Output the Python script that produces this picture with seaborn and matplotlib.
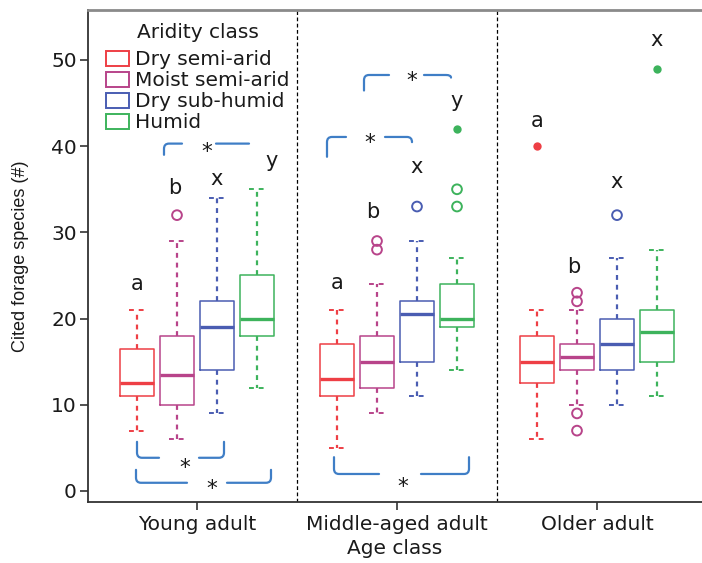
import itertools

import numpy as np
import pandas as pd
import matplotlib
matplotlib.use("Agg")
import matplotlib.pyplot as plt
from matplotlib.path import Path
from matplotlib.patches import PathPatch, Patch
import seaborn as sns

# ---------------------------------------------------------------- data
age_classes = ["Young adult", "Middle-aged adult", "Older adult"]
aridity_classes = ["Dry semi-arid", "Moist semi-arid", "Dry sub-humid", "Humid"]

# five-number summaries, one entry per (age class, aridity class) pair,
# aridity class varying fastest
whisker_low = [7, 6, 9, 12, 5, 9, 11, 14, 6, 10, 10, 11]
q1 = [11, 10, 14, 18, 11, 12, 15, 19, 12.5, 14, 14, 15]
median = [12.5, 13.5, 19, 20, 13, 15, 20.5, 20, 15, 15.5, 17, 18.5]
q3 = [16.5, 18, 22, 25, 17, 18, 22, 24, 18, 17, 20, 21]
whisker_high = [21, 29, 34, 35, 21, 24, 29, 27, 21, 21, 27, 28]

# outliers (open circles)
outlier_age = ["Young adult", "Middle-aged adult", "Middle-aged adult",
               "Middle-aged adult", "Middle-aged adult", "Middle-aged adult",
               "Older adult", "Older adult", "Older adult", "Older adult",
               "Older adult"]
outlier_aridity = ["Moist semi-arid", "Moist semi-arid", "Moist semi-arid",
                   "Dry sub-humid", "Humid", "Humid",
                   "Moist semi-arid", "Moist semi-arid", "Moist semi-arid",
                   "Moist semi-arid", "Dry sub-humid"]
outlier_value = [32, 28, 29, 33, 33, 35, 22, 23, 9, 7, 32]

# extreme values (filled markers)
extreme_age = ["Middle-aged adult", "Older adult", "Older adult"]
extreme_aridity = ["Humid", "Dry semi-arid", "Humid"]
extreme_value = [42, 40, 49]

# post-hoc group letters per box
letters = ["a", "b", "x", "y", "a", "b", "x", "y", "a", "b", "x", "x"]
letter_base = [23.3, 34.5, 35.5, 37.6, 23.4, 31.7, 36.9, 44.5,
               42.2, 25.3, 35.2, 51.6]
letter_nudge = [0, -0.01, 0, 0.075, 0, -0.02, 0, 0.0, 0, -0.015, 0, 0]

palette = dict(zip(aridity_classes,
                   ["#EE3F45", "#B8448A", "#4A5DB2", "#3DB35C"]))
bracket_color = "#3F7EC6"

# ---------------------------------------------------------------- tables
rows = []
for i, (age, arid) in enumerate(itertools.product(age_classes, aridity_classes)):
    for v in (whisker_low[i], q1[i], median[i], q3[i], whisker_high[i]):
        rows.append({"age": age, "aridity": arid, "species": v})
summary = pd.DataFrame(rows)
outliers = pd.DataFrame({"age": outlier_age, "aridity": outlier_aridity,
                         "species": outlier_value})
extremes = pd.DataFrame({"age": extreme_age, "aridity": extreme_aridity,
                         "species": extreme_value})

# ---------------------------------------------------------------- style
sns.set_style("ticks")
plt.rcParams["font.family"] = ["DejaVu Sans"]
text_color = "#1a1a1a"
fs = 14.5

fig = plt.figure(figsize=(7.02, 5.63), dpi=100)
ax = fig.add_axes([88 / 702, 61 / 563, 614 / 702, 492 / 563])

sns.boxplot(data=summary, x="age", y="species", hue="aridity",
            order=age_classes, hue_order=aridity_classes, palette=palette,
            fill=False, width=0.8, gap=0.15, whis=np.inf, showfliers=False,
            linewidth=1.1,
            medianprops=dict(linewidth=2.4),
            whiskerprops=dict(linestyle=(0, (2.2, 2.2)), linewidth=1.6),
            capprops=dict(linestyle=(0, (2.5, 2.5)), linewidth=1.4),
            legend=False, ax=ax)

n_before = len(ax.collections)
sns.stripplot(data=outliers, x="age", y="species", hue="aridity",
              order=age_classes, hue_order=aridity_classes, palette=palette,
              dodge=True, jitter=False, size=7, legend=False, ax=ax)
for coll in ax.collections[n_before:]:
    fc = coll.get_facecolors()
    coll.set_edgecolors(fc)
    coll.set_facecolors("none")
    coll.set_linewidth(1.4)

sns.stripplot(data=extremes, x="age", y="species", hue="aridity",
              order=age_classes, hue_order=aridity_classes, palette=palette,
              dodge=True, jitter=False, size=6, marker="o",
              linewidth=0, legend=False, ax=ax)

# ---------------------------------------------------------------- letters
hue_offsets = [-0.3, -0.1, 0.1, 0.3]
for i, (g, h) in enumerate(itertools.product(range(3), range(4))):
    ax.text(g + hue_offsets[h] + letter_nudge[i], letter_base[i], letters[i],
            ha="center", va="baseline", fontsize=15, color=text_color)

# ---------------------------------------------------------------- brackets
def bracket(x0, x1, y, hook_l, hook_r, gap0, gap1, star_x, star_y):
    rx, ry = 0.025, 0.6
    verts, codes = [], []

    def corner(xe, hook, side):
        sgn = np.sign(hook) if hook != 0 else 1
        r = min(ry, abs(hook))
        return [(xe, y + hook), (xe, y + sgn * r), (xe, y),
                (xe + side * rx, y)]

    left = corner(x0, hook_l, 1)
    verts += left + [(gap0, y)]
    codes += [Path.MOVETO, Path.LINETO, Path.CURVE3, Path.CURVE3, Path.LINETO]
    right = corner(x1, hook_r, -1)
    if hook_r != 0:
        verts += [(gap1, y)] + right[::-1]
        codes += [Path.MOVETO, Path.LINETO, Path.CURVE3, Path.CURVE3,
                  Path.LINETO]
    else:
        verts += [(gap1, y), (x1, y)]
        codes += [Path.MOVETO, Path.LINETO]
    ax.add_patch(PathPatch(Path(verts, codes), fill=False,
                           edgecolor=bracket_color, linewidth=1.6,
                           capstyle="round", joinstyle="round"))
    ax.annotate("*", xy=(star_x, star_y), xytext=(0, -8.5),
                textcoords="offset points", ha="center", va="baseline",
                fontsize=15.5, color=text_color)


bracket(-0.165, 0.26, 40.3, -1.3, 0, -0.075, 0.095, 0.05, 40.0)
bracket(-0.30, 0.135, 3.85, 1.85, 1.85, -0.19, 0.01, -0.06, 3.35)
bracket(-0.305, 0.37, 0.95, 1.5, 1.5, -0.05, 0.15, 0.075, 0.95)
bracket(0.835, 1.27, 48.26, -1.8, -0.3, 0.96, 1.135, 1.075, 48.26)
bracket(0.65, 1.075, 41.07, -2.3, -0.6, 0.745, 0.94, 0.865, 41.07)
bracket(0.685, 1.36, 1.97, 1.95, 1.95, 0.91, 1.12, 1.03, 1.16)

# ---------------------------------------------------------------- separators
for xs in (0.5, 1.5):
    ax.axvline(xs, color="black", linewidth=0.9, linestyle=(0, (3, 2)),
               zorder=0)

# ---------------------------------------------------------------- axes
ax.set_xlim(-0.545, 2.525)
ax.set_ylim(-1.28, 55.8)
ax.set_yticks(range(0, 51, 10))
ax.tick_params(axis="both", length=6, width=1.2, colors="#333333",
               labelcolor=text_color, labelsize=fs)
ax.tick_params(axis="x", pad=3)
ax.tick_params(axis="y", pad=2)
ax.set_xlabel("Age class", fontsize=fs, color=text_color, labelpad=4)
ax.set_ylabel("Cited forage species (#)", fontsize=13, color=text_color,
              family=["Liberation Sans"], labelpad=16)
for side in ("left", "bottom"):
    ax.spines[side].set_color("#333333")
    ax.spines[side].set_linewidth(1.3)
ax.spines["top"].set_color("#8a8a8a")
ax.spines["top"].set_linewidth(2.0)
ax.spines["right"].set_visible(False)

handles = [Patch(facecolor="white", edgecolor=palette[a], linewidth=1.4,
                 label=a) for a in aridity_classes]
leg = ax.legend(handles=handles, title="Aridity class", loc="upper left",
                bbox_to_anchor=(0.01, 0.998), frameon=False, fontsize=fs,
                title_fontsize=fs, handlelength=1.15, handleheight=0.8,
                handletextpad=0.3, labelspacing=0.1, borderaxespad=0.2)
leg._legend_box.sep = 6
for t in leg.get_texts():
    t.set_color(text_color)
leg.get_title().set_color(text_color)

fig.savefig("out.png", dpi=100)
